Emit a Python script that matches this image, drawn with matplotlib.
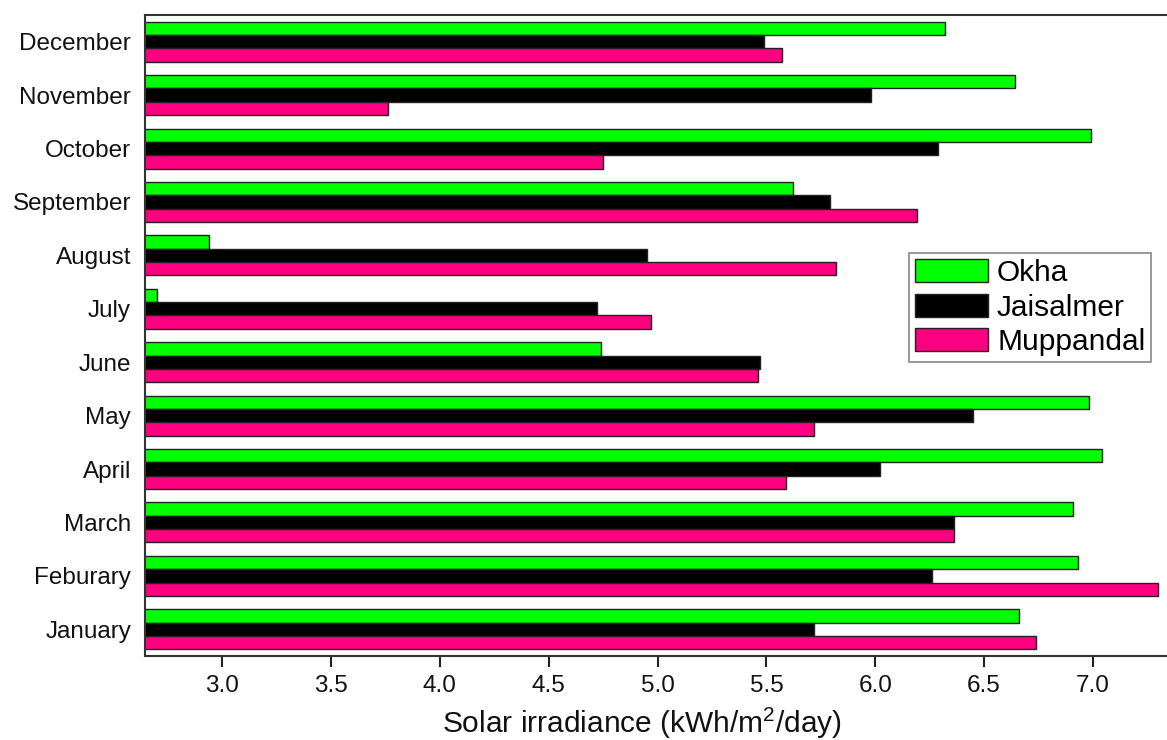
import matplotlib
matplotlib.use("Agg")
import matplotlib.pyplot as plt
import numpy as np

# Monthly mean solar irradiance (kWh/m^2/day) at three Indian sites
months = ["January", "Feburary", "March", "April", "May", "June",
          "July", "August", "September", "October", "November", "December"]
okha = [6.66, 6.93, 6.91, 7.04, 6.98, 4.74, 2.70, 2.94, 5.62, 6.99, 6.64, 6.32]
jaisalmer = [5.72, 6.26, 6.36, 6.02, 6.45, 5.47, 4.72, 4.95, 5.79, 6.29, 5.98, 5.49]
muppandal = [6.74, 7.30, 6.36, 5.59, 5.72, 5.46, 4.97, 5.82, 6.19, 4.75, 3.76, 5.57]

series = [("Okha", okha, "#00FF00"),
          ("Jaisalmer", jaisalmer, "#000000"),
          ("Muppandal", muppandal, "#FF0080")]

plt.rcParams["font.family"] = ["Liberation Sans", "DejaVu Sans"]
plt.rcParams["mathtext.fontset"] = "custom"
plt.rcParams["mathtext.rm"] = "Liberation Sans"

fig = plt.figure(figsize=(11.67, 7.40), dpi=100)
ax = fig.add_axes([145 / 1167, 1 - 656 / 740, 1 - 145 / 1167, (656 - 15) / 740])

y = np.arange(len(months))
h = 0.25
offsets = [h, 0.0, -h]
for (name, vals, col), off in zip(series, offsets):
    ax.barh(y + off, vals, height=h, left=0, color=col,
            edgecolor="#222222", linewidth=1.0, label=name)

ax.set_xlim(2.646, 7.34)
ax.set_ylim(-0.5, len(months) - 0.5)
ticks = np.arange(3.0, 7.01, 0.5)
ax.set_xticks(ticks)
ax.set_xticklabels([f"{v:.1f}" for v in ticks])
ax.set_yticks(y)
ax.set_yticklabels(months)

ax.tick_params(axis="x", direction="out", length=8, width=1.5,
               labelsize=17.5, pad=6, colors="#222222", labelcolor="#111111")
ax.tick_params(axis="y", length=0, labelsize=17.5, pad=10, labelcolor="#111111")

for side in ["left", "top", "bottom"]:
    ax.spines[side].set_linewidth(1.5)
    ax.spines[side].set_color("#333333")
ax.spines["right"].set_visible(False)

ax.set_xlabel("Solar irradiance (kWh/m$^{2}$/day)", fontsize=21.5,
              color="#111111")
ax.xaxis.label.set_verticalalignment("baseline")
ax.xaxis.set_label_coords(642 / 1167, 1 - 733 / 740, transform=fig.transFigure)

leg = ax.legend(loc="upper left", bbox_to_anchor=(909 / 1167, 1 - 253 / 740),
                bbox_transform=fig.transFigure, fontsize=21.5, frameon=True,
                fancybox=False, edgecolor="#888888", framealpha=1,
                handlelength=2.45, handleheight=0.8, handletextpad=0.3,
                labelspacing=0.22, borderpad=0.2, borderaxespad=0)
leg.get_frame().set_linewidth(1.2)

fig.savefig("out.png", dpi=100)
